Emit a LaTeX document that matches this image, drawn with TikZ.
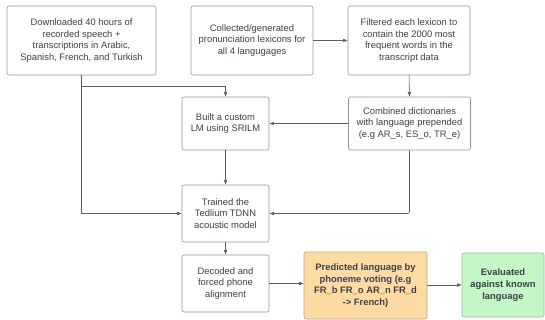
\documentclass[tikz,border=0pt]{standalone}
\usepackage{fontspec}
\setmainfont{Liberation Sans}
\usetikzlibrary{arrows.meta}

\definecolor{txtgrey}{HTML}{3A414A}
\definecolor{boxline}{HTML}{8E959C}
\definecolor{predfill}{HTML}{FFDBA3}
\definecolor{predline}{HTML}{B9A27E}
\definecolor{evalfill}{HTML}{C3F7C8}
\definecolor{evalline}{HTML}{9AB59C}

\tikzset{
  stepbox/.style={draw=boxline, line width=0.6pt, rounded corners=2pt, fill=white,
    align=center, text=txtgrey, inner sep=2pt,
    font=\fontsize{9.4}{11.6}\selectfont},
  link/.style={draw=txtgrey!85, line width=0.55pt, -{Latex[length=4.5pt,width=3.6pt]}},
}

\begin{document}
\begin{tikzpicture}[x=1pt, y=-1pt]
  \useasboundingbox (0,0) rectangle (545,320);

  %% top row
  \node[stepbox, minimum width=149pt, minimum height=69pt] (dl) at (81.5,40.5)
    {Downloaded 40 hours of\\recorded speech +\\transcriptions in Arabic,\\Spanish, French, and Turkish};
  \node[stepbox, minimum width=122pt, minimum height=69pt] (coll) at (252,40.5)
    {Collected/generated\\pronunciation lexicons for\\all 4 langugages};
  \node[stepbox, minimum width=122pt, minimum height=69pt] (filt) at (409,40.5)
    {Filtered each lexicon to\\contain the 2000 most\\frequent words in the\\transcript data};

  %% middle
  \node[stepbox, minimum width=87pt, minimum height=53pt] (lm) at (225.5,123.5)
    {Built a custom\\LM using SRILM};
  \node[stepbox, minimum width=122pt, minimum height=53pt] (comb) at (409.5,123.5)
    {Combined dictionaries\\with language prepended\\(e.g AR\_s, ES\_o, TR\_e)};
  \node[stepbox, minimum width=87pt, minimum height=57pt] (train) at (225.5,213.5)
    {Trained the\\Tedlium TDNN\\acoustic model};

  %% bottom row
  \node[stepbox, minimum width=87pt, minimum height=57pt] (dec) at (225.5,283.5)
    {Decoded and\\forced phone\\alignment};
  \node[stepbox, draw=predline, fill=predfill, font=\fontsize{9.4}{11.6}\selectfont\bfseries,
    minimum width=123pt, minimum height=67pt] (pred) at (365.5,285.5)
    {Predicted language by\\phoneme voting (e.g\\FR\_b FR\_o AR\_n FR\_d\\-> French)};
  \node[stepbox, draw=evalline, fill=evalfill, font=\fontsize{9.4}{11.6}\selectfont\bfseries,
    minimum width=82pt, minimum height=64pt] (eval) at (503,285)
    {Evaluated\\against known\\language};

  %% connectors
  \coordinate (split) at ([yshift=-11pt]dl.south);
  \draw[link] (dl.south) -- (split) -| (lm.north);
  \draw[link] (dl.south) |- (train.west);
  \draw[link] (coll.east) -- (filt.west);
  \draw[link] (filt.south) -- (comb.north);
  \draw[link] (comb.west) -- (lm.east);
  \draw[link, rounded corners=1.5pt] (comb.south) |- (train.east);
  \draw[link] (lm.south) -- (train.north);
  \draw[link] (train.south) -- (dec.north);
  \draw[link] (dec.east) -- (dec.east -| pred.west);
  \draw[link] (pred.east |- eval.west) -- (eval.west);
\end{tikzpicture}
\end{document}
